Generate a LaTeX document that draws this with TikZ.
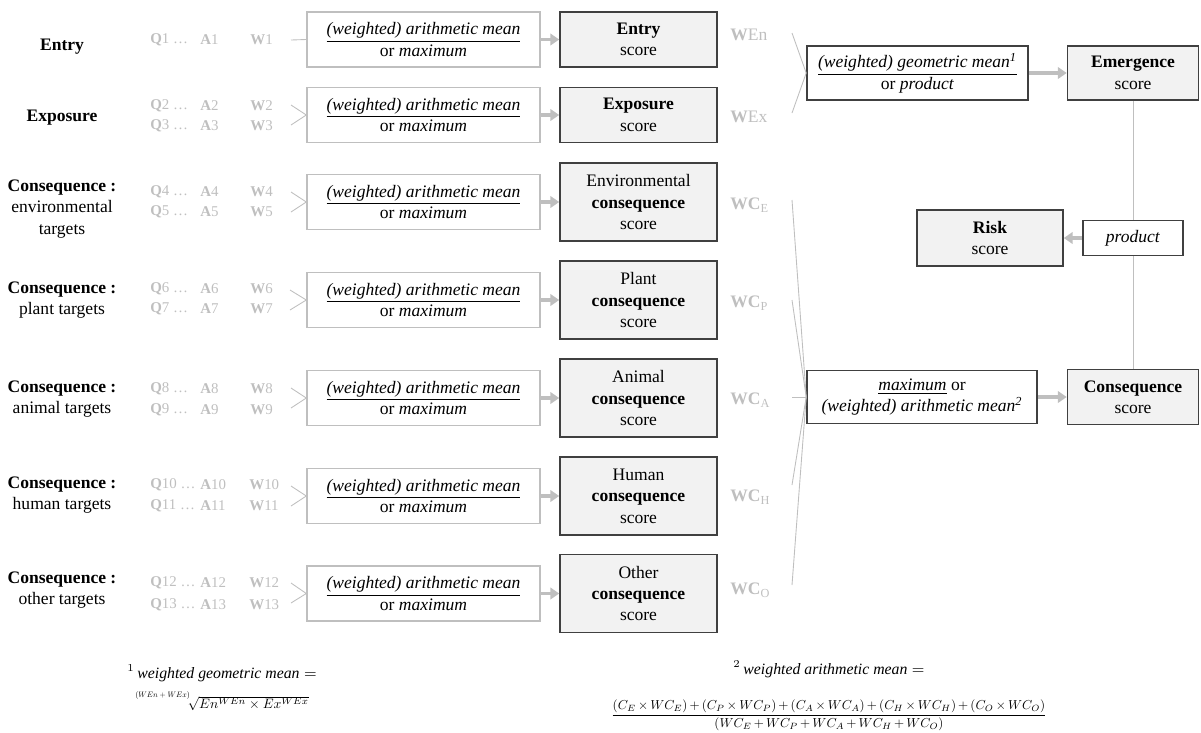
\documentclass[tikz,border=0pt]{standalone}
\usepackage{fontspec}
\setmainfont{Liberation Serif}
\usepackage{amsmath}
\usepackage{graphicx}
\usetikzlibrary{arrows.meta}

\newdimen\pxu \pxu=0.57pt
\definecolor{paleline}{RGB}{191,191,191}
\definecolor{darkline}{RGB}{64,64,64}
\definecolor{boxfill}{RGB}{242,242,242}

\newcommand{\amean}{\underline{\textit{(weighted) arithmetic mean}}\\or \textit{maximum}}

\tikzset{
  meanbox/.style={draw=paleline, fill=white, line width=0.8pt, align=center,
    minimum width=233\pxu, minimum height=55\pxu, inner sep=0pt},
  scorebox/.style={draw=darkline, fill=boxfill, line width=0.9pt, align=center,
    minimum width=157\pxu, minimum height=55\pxu, inner sep=0pt},
  opbox/.style={draw=darkline, fill=white, line width=0.9pt, align=center, inner sep=0pt},
  qtext/.style={text=paleline, anchor=west, inner sep=0pt, font=\fontsize{8.5}{10}\selectfont},
  wtext/.style={text=paleline, anchor=west, inner sep=0pt},
  rowlabel/.style={align=center, inner sep=0pt},
  fine/.style={draw=paleline, line width=0.5pt},
  feed/.style={draw=paleline, line width=2.2pt, -{Triangle[length=5pt,width=6.5pt]}},
}

\begin{document}
\begin{tikzpicture}[x=\pxu, y=-\pxu, font=\fontsize{10}{12.2}\selectfont]
  \useasboundingbox (0,0) rectangle (1201,732);

  % row labels
  \node[rowlabel] (l1) at (62,47) {\textbf{Entry}};
  \node[rowlabel] (l2) at (62,118) {\textbf{Exposure}};
  \node[rowlabel] (l3) at (62,209) {\textbf{Consequence :}\\environmental\\targets};
  \node[rowlabel] (l4) at (62,300) {\textbf{Consequence :}\\plant targets};
  \node[rowlabel] (l5) at (62,399) {\textbf{Consequence :}\\animal targets};
  \node[rowlabel] (l6) at (62,495) {\textbf{Consequence :}\\human targets};
  \node[rowlabel] (l7) at (62,590) {\textbf{Consequence :}\\other targets};

  % questions, answers, weights
  \node[qtext] (q1) at (150,40) {\textbf{Q}1 …};  \node[qtext] (a1) at (200,40) {\textbf{A}1};  \node[qtext] (w1) at (250,40) {\textbf{W}1};
  \node[qtext] (q2) at (150,106) {\textbf{Q}2 …}; \node[qtext] (a2) at (200,106) {\textbf{A}2}; \node[qtext] (w2) at (250,106) {\textbf{W}2};
  \node[qtext] (q3) at (150,126) {\textbf{Q}3 …}; \node[qtext] (a3) at (200,126) {\textbf{A}3}; \node[qtext] (w3) at (250,126) {\textbf{W}3};
  \node[qtext] (q4) at (150,192) {\textbf{Q}4 …}; \node[qtext] (a4) at (200,192) {\textbf{A}4}; \node[qtext] (w4) at (250,192) {\textbf{W}4};
  \node[qtext] (q5) at (150,212) {\textbf{Q}5 …}; \node[qtext] (a5) at (200,212) {\textbf{A}5}; \node[qtext] (w5) at (250,212) {\textbf{W}5};
  \node[qtext] (q6) at (150,289) {\textbf{Q}6 …}; \node[qtext] (a6) at (200,289) {\textbf{A}6}; \node[qtext] (w6) at (250,289) {\textbf{W}6};
  \node[qtext] (q7) at (150,309) {\textbf{Q}7 …}; \node[qtext] (a7) at (200,309) {\textbf{A}7}; \node[qtext] (w7) at (250,309) {\textbf{W}7};
  \node[qtext] (q8) at (150,389) {\textbf{Q}8 …}; \node[qtext] (a8) at (200,389) {\textbf{A}8}; \node[qtext] (w8) at (250,389) {\textbf{W}8};
  \node[qtext] (q9) at (150,410) {\textbf{Q}9 …}; \node[qtext] (a9) at (200,410) {\textbf{A}9}; \node[qtext] (w9) at (250,410) {\textbf{W}9};
  \node[qtext] (q10) at (150,485) {\textbf{Q}10 …}; \node[qtext] (a10) at (200,485) {\textbf{A}10}; \node[qtext] (w10) at (249,485) {\textbf{W}10};
  \node[qtext] (q11) at (150,506) {\textbf{Q}11 …}; \node[qtext] (a11) at (200,506) {\textbf{A}11}; \node[qtext] (w11) at (249,506) {\textbf{W}11};
  \node[qtext] (q12) at (150,583) {\textbf{Q}12 …}; \node[qtext] (a12) at (200,583) {\textbf{A}12}; \node[qtext] (w12) at (249,583) {\textbf{W}12};
  \node[qtext] (q13) at (150,605) {\textbf{Q}13 …}; \node[qtext] (a13) at (200,605) {\textbf{A}13}; \node[qtext] (w13) at (249,605) {\textbf{W}13};

  % aggregation boxes
  \node[meanbox] (m1) at (423.5,39.5) {\amean};
  \node[meanbox] (m2) at (423.5,115) {\amean};
  \node[meanbox] (m3) at (423.5,202) {\amean};
  \node[meanbox] (m4) at (423.5,300) {\amean};
  \node[meanbox] (m5) at (423.5,398) {\amean};
  \node[meanbox] (m6) at (423.5,496) {\amean};
  \node[meanbox] (m7) at (423.5,593.5) {\amean};

  % score boxes
  \node[scorebox] (s1) at (638.5,39.5) {\textbf{Entry}\\score};
  \node[scorebox] (s2) at (638.5,115) {\textbf{Exposure}\\score};
  \node[scorebox, minimum height=78\pxu] (s3) at (638.5,202) {Environmental\\\textbf{consequence}\\score};
  \node[scorebox, minimum height=78\pxu] (s4) at (638.5,300) {Plant\\\textbf{consequence}\\score};
  \node[scorebox, minimum height=78\pxu] (s5) at (638.5,398) {Animal\\\textbf{consequence}\\score};
  \node[scorebox, minimum height=78\pxu] (s6) at (638.5,496) {Human\\\textbf{consequence}\\score};
  \node[scorebox, minimum height=78\pxu] (s7) at (638.5,593.5) {Other\\\textbf{consequence}\\score};

  \draw[feed] (m1) -- (s1);
  \draw[feed] (m2) -- (s2);
  \draw[feed] (m3) -- (s3);
  \draw[feed] (m4) -- (s4);
  \draw[feed] (m5) -- (s5);
  \draw[feed] (m6) -- (s6);
  \draw[feed] (m7) -- (s7);

  % inputs into the aggregation boxes
  \coordinate (k1) at (291,40);
  \coordinate (k2a) at (291,105); \coordinate (k2b) at (291,125);
  \coordinate (k3a) at (291,192); \coordinate (k3b) at (291,212);
  \coordinate (k4a) at (290,290); \coordinate (k4b) at (290,310);
  \coordinate (k5a) at (291,388); \coordinate (k5b) at (291,408);
  \coordinate (k6a) at (291,486); \coordinate (k6b) at (291,506);
  \coordinate (k7a) at (291,583); \coordinate (k7b) at (291,603);
  \draw[fine] (k1) -- (m1.west);
  \draw[fine] (k2a) -- (m2.west) -- (k2b);
  \draw[fine] (k3a) -- (m3.west) -- (k3b);
  \draw[fine] (k4a) -- (m4.west) -- (k4b);
  \draw[fine] (k5a) -- (m5.west) -- (k5b);
  \draw[fine] (k6a) -- (m6.west) -- (k6b);
  \draw[fine] (k7a) -- (m7.west) -- (k7b);

  % score weights
  \node[wtext] (wen) at (730,35) {\textbf{W}En};
  \node[wtext] (wex) at (730,117) {\textbf{W}Ex};
  \node[wtext] (wce) at (730,205) {\textbf{WC}\textsubscript{E}};
  \node[wtext] (wcp) at (730,303) {\textbf{WC}\textsubscript{P}};
  \node[wtext] (wca) at (730,400) {\textbf{WC}\textsubscript{A}};
  \node[wtext] (wch) at (730,497) {\textbf{WC}\textsubscript{H}};
  \node[wtext] (wco) at (730,590) {\textbf{WC}\textsubscript{O}};

  % emergence, risk, consequence
  \node[opbox, minimum width=221\pxu, minimum height=54\pxu] (gmean) at (917.5,73)
    {\underline{\textit{(weighted) geometric mean\textsuperscript{1}}}\\or \textit{product}};
  \node[scorebox, minimum width=131\pxu, minimum height=54\pxu] (emerg) at (1133,73) {\textbf{Emergence}\\score};
  \node[opbox, minimum width=100\pxu, minimum height=35\pxu] (prod) at (1133,238) {\textit{product}};
  \node[scorebox, minimum width=146\pxu, minimum height=56\pxu] (risk) at (990,238) {\textbf{Risk}\\score};
  \node[opbox, minimum width=230\pxu, minimum height=53\pxu] (cmean) at (922,397)
    {\underline{\textit{maximum}} or\\\textit{(weighted) arithmetic mean\textsuperscript{2}}};
  \node[scorebox, minimum width=131\pxu, minimum height=55\pxu] (cons) at (1133,397) {\textbf{Consequence}\\score};

  \coordinate (ken) at (792,33);
  \coordinate (kex) at (792,113);
  \draw[fine] (ken) -- (gmean.west) -- (kex);
  \coordinate (kce) at (792,200);
  \coordinate (kcp) at (792,300);
  \coordinate (kca) at (792,397);
  \coordinate (kch) at (792,485);
  \coordinate (kco) at (792,585);
  \draw[fine] (kce) -- (cmean.west);
  \draw[fine] (kcp) -- (cmean.west);
  \draw[fine] (kca) -- (cmean.west);
  \draw[fine] (kch) -- (cmean.west);
  \draw[fine] (kco) -- (cmean.west);

  \draw[feed] (gmean) -- (emerg);
  \draw[feed] (cmean) -- (cons);
  \draw[fine] (emerg) -- (prod);
  \draw[fine] (prod) -- (cons);
  \draw[feed] (prod) -- (risk);

  % footnotes
  \node[font=\fontsize{9}{11}\selectfont] (fn1) at (222,673) {$^{1}\,\mathit{weighted\ geometric\ mean} =$};
  \node (fn1f) at (222,701)
    {\raisebox{1.4ex}{\scalebox{0.45}{$(WEn+WEx)$}}\scalebox{0.78}{$\!\sqrt{En^{WEn}\times Ex^{WEx}}$}};
  \node[font=\fontsize{9}{11}\selectfont] (fn2) at (829,669) {$^{2}\,\mathit{weighted\ arithmetic\ mean} =$};
  \node[inner sep=0pt] (fn2f) at (829,715)
    {\scalebox{0.74}{$\medmuskip=3mu\dfrac{(C_E\times WC_E)+(C_P\times WC_P)+(C_A\times WC_A)+(C_H\times WC_H)+(C_O\times WC_O)}{(WC_E+WC_P+WC_A+WC_H+WC_O)}$}};
\end{tikzpicture}
\end{document}
